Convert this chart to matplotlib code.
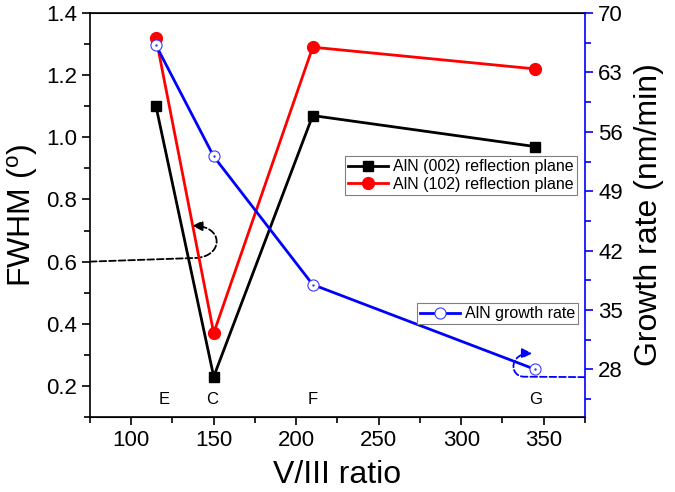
import matplotlib
matplotlib.use('Agg')
import matplotlib.pyplot as plt
from matplotlib.ticker import MultipleLocator
from matplotlib.patches import FancyArrowPatch
from matplotlib.path import Path

plt.rcParams['font.family'] = ['Liberation Sans', 'DejaVu Sans']
plt.rcParams['mathtext.fontset'] = 'custom'
plt.rcParams['mathtext.rm'] = 'Liberation Sans'
plt.rcParams['mathtext.it'] = 'Liberation Sans'

# ---- data ----
v3_ratio = [115, 150, 210, 345]
fwhm_002 = [1.10, 0.23, 1.07, 0.97]
fwhm_102 = [1.32, 0.37, 1.29, 1.22]
growth_rate = [66.2, 53.1, 38.0, 28.0]

sample_names = ['E', 'C', 'F', 'G']
sample_label_x = [120, 149, 210, 345]
sample_label_y = 0.155

fig = plt.figure(figsize=(6.75, 4.92), dpi=100)
ax = fig.add_axes([0.1333, 0.1524, 0.7333, 0.8212])
ax2 = ax.twinx()

l1, = ax.plot(v3_ratio, fwhm_002, color='black', marker='s', markersize=7.5,
              linewidth=2, label='AlN (002) reflection plane')
l2, = ax.plot(v3_ratio, fwhm_102, color='red', marker='o', markersize=8.5,
              linewidth=2, label='AlN (102) reflection plane')
l3, = ax2.plot(v3_ratio, growth_rate, color='blue', marker='o', markersize=8,
               markerfacecolor='white', markeredgecolor='#3a3aff',
               markeredgewidth=0.8, linewidth=2, label='AlN growth rate')
ax2.plot(v3_ratio, growth_rate, linestyle='none', marker='.', markersize=1.5,
         color='#3a3aff')

for name, lx in zip(sample_names, sample_label_x):
    ax.text(lx, sample_label_y, name, ha='center', va='center', fontsize=12)


# dashed curved arrows pointing to the relevant axes
def curved_arrow(axis, pts, color):
    path = Path(pts, [Path.MOVETO, Path.LINETO, Path.CURVE4, Path.CURVE4, Path.CURVE4])
    arr = FancyArrowPatch(path=path, arrowstyle='-|>', color=color,
                          linestyle='--', linewidth=1.3, mutation_scale=15)
    axis.add_patch(arr)


curved_arrow(ax, [(75, 0.600), (140, 0.612), (156, 0.62), (156, 0.715), (137, 0.715)],
             'black')
curved_arrow(ax2, [(375, 27.1), (338, 27.15), (329, 27.2), (329, 29.9), (343, 29.9)],
             'blue')

ax.set_xlim(75, 375)
ax.set_ylim(0.1, 1.4)
ax2.set_ylim(22.4, 70)

ax.xaxis.set_major_locator(MultipleLocator(50))
ax.xaxis.set_minor_locator(MultipleLocator(25))
ax.yaxis.set_major_locator(MultipleLocator(0.2))
ax.yaxis.set_minor_locator(MultipleLocator(0.1))
ax2.yaxis.set_major_locator(MultipleLocator(7))
ax2.yaxis.set_minor_locator(MultipleLocator(3.5))

ax.tick_params(which='both', direction='out', labelsize=16, width=1.2)
ax.tick_params(which='major', length=6)
ax.tick_params(which='minor', length=4)
ax2.tick_params(which='both', direction='out', labelsize=16, width=1.2,
                color='blue')
ax2.tick_params(which='major', length=6)
ax2.tick_params(which='minor', length=4)

for s in ['left', 'bottom', 'top']:
    ax.spines[s].set_linewidth(1.2)
ax2.spines['right'].set_color('blue')
ax2.spines['right'].set_linewidth(1.2)
ax2.spines['left'].set_visible(False)
ax.spines['right'].set_visible(False)

ax.set_xlabel('V/III ratio', fontsize=23, labelpad=6)
ax.set_ylabel(r'FWHM ($^{\rm o}$)', fontsize=23, labelpad=4)
ax2.set_ylabel('Growth rate (nm/min)', fontsize=23, labelpad=8)

leg_kw = dict(fontsize=11.5, handlelength=2.5, handletextpad=0.3,
              borderpad=0.2, labelspacing=0.15, borderaxespad=0,
              fancybox=False, edgecolor='gray', framealpha=1)
leg1 = ax.legend(handles=[l1, l2], loc='upper right',
                 bbox_to_anchor=(0.984, 0.646), **leg_kw)
leg1.get_frame().set_linewidth(0.8)
leg2 = ax2.legend(handles=[l3], loc='upper right',
                  bbox_to_anchor=(0.986, 0.282), **leg_kw)
leg2.get_frame().set_linewidth(0.8)

fig.savefig('out.png', dpi=100)
